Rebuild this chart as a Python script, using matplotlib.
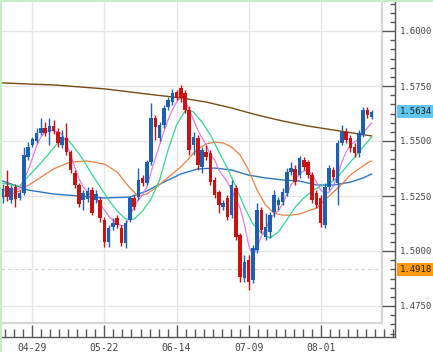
import matplotlib.pyplot as plt
import matplotlib.transforms as mtransforms
from matplotlib.patches import Rectangle
from matplotlib.lines import Line2D

# ---- data ----
date_labels = ['04-29', '05-22', '06-14', '07-09', '08-01']
date_idx = [7, 24, 41, 58, 75]

opens = [1.5245, 1.5295, 1.5232, 1.5291, 1.5241, 1.5263, 1.5427, 1.5482, 1.5500, 1.5536,
         1.5559, 1.5541, 1.5568, 1.5541, 1.5482, 1.5514, 1.5450, 1.5354, 1.5300, 1.5232,
         1.5236, 1.5277, 1.5232, 1.5232, 1.5141, 1.5041, 1.5109, 1.5150, 1.5104, 1.5036,
         1.5141, 1.5241, 1.5245, 1.5332, 1.5309, 1.5405, 1.5605, 1.5514, 1.5573, 1.5655,
         1.5677, 1.5723, 1.5741, 1.5718, 1.5641, 1.5482, 1.5514, 1.5382, 1.5450, 1.5445,
         1.5323, 1.5268, 1.5200, 1.5241, 1.5163, 1.5286, 1.5072, 1.4877, 1.4959, 1.4868,
         1.5004, 1.5186, 1.5063, 1.5086, 1.5177, 1.5209, 1.5223, 1.5263, 1.5359, 1.5373,
         1.5345, 1.5414, 1.5405, 1.5345, 1.5263, 1.5241, 1.5118, 1.5291, 1.5368, 1.5309,
         1.5491, 1.5541, 1.5514, 1.5473, 1.5445, 1.5527, 1.5641, 1.5609]
closes = [1.5282, 1.5245, 1.5286, 1.5236, 1.5263, 1.5436, 1.5473, 1.5509, 1.5536, 1.5559,
          1.5536, 1.5568, 1.5546, 1.5491, 1.5518, 1.5450, 1.5368, 1.5300, 1.5214, 1.5263,
          1.5273, 1.5172, 1.5259, 1.5150, 1.5041, 1.5104, 1.5127, 1.5118, 1.5036, 1.5127,
          1.5241, 1.5200, 1.5323, 1.5309, 1.5405, 1.5605, 1.5564, 1.5573, 1.5650, 1.5687,
          1.5718, 1.5700, 1.5696, 1.5641, 1.5459, 1.5518, 1.5391, 1.5459, 1.5427, 1.5313,
          1.5254, 1.5209, 1.5218, 1.5154, 1.5300, 1.5063, 1.4882, 1.4950, 1.4859, 1.5013,
          1.5186, 1.5095, 1.5109, 1.5163, 1.5254, 1.5232, 1.5268, 1.5359, 1.5377, 1.5313,
          1.5423, 1.5382, 1.5345, 1.5232, 1.5209, 1.5127, 1.5291, 1.5377, 1.5336, 1.5491,
          1.5541, 1.5505, 1.5468, 1.5445, 1.5536, 1.5641, 1.5618, 1.5634]
highs = [1.5304, 1.5368, 1.5300, 1.5304, 1.5277, 1.5473, 1.5495, 1.5518, 1.5559, 1.5605,
         1.5586, 1.5605, 1.5596, 1.5559, 1.5550, 1.5582, 1.5459, 1.5368, 1.5309, 1.5277,
         1.5291, 1.5291, 1.5277, 1.5245, 1.5154, 1.5118, 1.5150, 1.5163, 1.5118, 1.5141,
         1.5250, 1.5254, 1.5377, 1.5345, 1.5414, 1.5673, 1.5618, 1.5586, 1.5664, 1.5700,
         1.5737, 1.5732, 1.5755, 1.5732, 1.5659, 1.5541, 1.5527, 1.5473, 1.5482, 1.5459,
         1.5336, 1.5277, 1.5232, 1.5254, 1.5323, 1.5300, 1.5082, 1.4982, 1.4982, 1.5027,
         1.5218, 1.5200, 1.5172, 1.5177, 1.5277, 1.5245, 1.5286, 1.5377, 1.5405, 1.5391,
         1.5432, 1.5427, 1.5414, 1.5359, 1.5277, 1.5254, 1.5309, 1.5391, 1.5382, 1.5505,
         1.5573, 1.5559, 1.5527, 1.5491, 1.5550, 1.5655, 1.5655, 1.5641]
lows = [1.5218, 1.5227, 1.5218, 1.5200, 1.5232, 1.5254, 1.5414, 1.5473, 1.5491, 1.5527,
        1.5523, 1.5482, 1.5532, 1.5473, 1.5468, 1.5436, 1.5354, 1.5286, 1.5200, 1.5186,
        1.5223, 1.5163, 1.5218, 1.5132, 1.5018, 1.5018, 1.5095, 1.5104, 1.5022, 1.5013,
        1.5132, 1.5186, 1.5232, 1.5295, 1.5300, 1.5391, 1.5505, 1.5500, 1.5559, 1.5641,
        1.5664, 1.5687, 1.5677, 1.5627, 1.5436, 1.5436, 1.5368, 1.5354, 1.5414, 1.5300,
        1.5241, 1.5172, 1.5186, 1.5141, 1.5150, 1.5050, 1.4859, 1.4859, 1.4823, 1.4855,
        1.4991, 1.5082, 1.5050, 1.5059, 1.5154, 1.5186, 1.5209, 1.5250, 1.5345, 1.5300,
        1.5332, 1.5368, 1.5332, 1.5218, 1.5195, 1.5109, 1.5104, 1.5277, 1.5323, 1.5209,
        1.5482, 1.5491, 1.5450, 1.5427, 1.5427, 1.5518, 1.5605, 1.5600]

# moving averages (index, value)
ma_pink_idx = list(range(88))
ma_pink = [1.5277, 1.5277, 1.5277, 1.5280, 1.5282, 1.5323, 1.5368, 1.5423, 1.5477, 1.5518,
           1.5541, 1.5550, 1.5546, 1.5541, 1.5532, 1.5491, 1.5436, 1.5382, 1.5327, 1.5291,
           1.5268, 1.5250, 1.5236, 1.5214, 1.5186, 1.5159, 1.5141, 1.5127, 1.5114, 1.5118,
           1.5159, 1.5200, 1.5232, 1.5254, 1.5291, 1.5359, 1.5423, 1.5482, 1.5541, 1.5596,
           1.5641, 1.5677, 1.5700, 1.5687, 1.5641, 1.5596, 1.5550, 1.5514, 1.5482, 1.5436,
           1.5414, 1.5368, 1.5341, 1.5313, 1.5277, 1.5232, 1.5195, 1.5123, 1.5027, 1.4977,
           1.5013, 1.5068, 1.5100, 1.5141, 1.5168, 1.5182, 1.5214, 1.5254, 1.5300, 1.5323,
           1.5350, 1.5364, 1.5368, 1.5345, 1.5313, 1.5277, 1.5263, 1.5268, 1.5295, 1.5345,
           1.5405, 1.5450, 1.5482, 1.5495, 1.5509, 1.5536, 1.5559, 1.5582]
ma_green_idx = [0, 2, 4, 5, 7, 9, 11, 13, 15, 17, 19, 21, 23, 25, 27, 29, 31, 33, 35, 37,
                39, 41, 43, 44, 45, 47, 49, 51, 53, 55, 57, 59, 61, 63, 65, 67, 69, 71, 73,
                75, 77, 79, 81, 83, 85, 87]
ma_green = [1.5309, 1.5300, 1.5295, 1.5318, 1.5359, 1.5400, 1.5445, 1.5491, 1.5514, 1.5468,
            1.5414, 1.5350, 1.5291, 1.5232, 1.5182, 1.5145, 1.5145, 1.5182, 1.5236, 1.5323,
            1.5459, 1.5573, 1.5636, 1.5641, 1.5632, 1.5586, 1.5527, 1.5450, 1.5377, 1.5291,
            1.5200, 1.5123, 1.5082, 1.5059, 1.5086, 1.5141, 1.5200, 1.5241, 1.5273, 1.5295,
            1.5304, 1.5336, 1.5382, 1.5427, 1.5473, 1.5518]
ma_orange_idx = [0, 4, 8, 12, 16, 20, 24, 27, 30, 32, 34, 36, 38, 40, 42, 44, 46, 48, 50,
                 52, 54, 56, 58, 60, 62, 64, 66, 68, 70, 72, 74, 76, 78, 80, 82, 84, 86, 87]
ma_orange = [1.5245, 1.5273, 1.5323, 1.5373, 1.5405, 1.5409, 1.5395, 1.5359, 1.5286, 1.5250,
             1.5259, 1.5286, 1.5318, 1.5350, 1.5382, 1.5423, 1.5464, 1.5486, 1.5495, 1.5491,
             1.5473, 1.5436, 1.5368, 1.5277, 1.5209, 1.5172, 1.5163, 1.5163, 1.5168, 1.5182,
             1.5195, 1.5232, 1.5268, 1.5304, 1.5345, 1.5373, 1.5400, 1.5409]
ma_blue_idx = [0, 6, 12, 18, 24, 30, 34, 38, 42, 46, 50, 54, 58, 62, 66, 70, 74, 78, 82, 85, 87]
ma_blue = [1.5318, 1.5277, 1.5259, 1.5250, 1.5241, 1.5245, 1.5273, 1.5313, 1.5350, 1.5373,
           1.5377, 1.5368, 1.5345, 1.5332, 1.5323, 1.5318, 1.5300, 1.5300, 1.5313, 1.5332,
           1.5350]
ma_brown_idx = [0, 6, 12, 18, 24, 30, 36, 42, 48, 54, 60, 66, 72, 78, 84, 87]
ma_brown = [1.5764, 1.5759, 1.5755, 1.5746, 1.5737, 1.5723, 1.5709, 1.5696, 1.5677, 1.5650,
            1.5618, 1.5591, 1.5568, 1.5550, 1.5532, 1.5523]

y_major = [1.475, 1.500, 1.525, 1.550, 1.575, 1.600]
last_price = 1.5634
mark_price = 1.4918

# ---- layout: reference pixel geometry ----
W, H = 433, 352
fig = plt.figure(figsize=(W / 100, H / 100), dpi=100)
fig.patch.set_facecolor('white')


def px_to_idx(px):
    return (px - 2.7) / 4.24


def py_to_price(py):
    return 1.55 + (141 - py) * 0.025 / 55


ax = fig.add_axes([1 / W, 1 - 337 / H, 394 / W, 337 / H])
ax.set_xlim(px_to_idx(1), px_to_idx(395))
ax.set_ylim(py_to_price(337), py_to_price(0))
x_left = px_to_idx(1)
plot_right = px_to_idx(382)
plot_bottom = py_to_price(323)
y_top = py_to_price(0)

for s in ['top', 'left']:
    ax.spines[s].set_visible(False)
for s in ['bottom', 'right']:
    ax.spines[s].set_color('#555555')
    ax.spines[s].set_linewidth(1.0)

# grid
ax.hlines(y_major, x_left, plot_right, color='#e6e6e6', lw=1, zorder=0)
ax.vlines(date_idx, plot_bottom, y_top, color='#e6e6e6', lw=1, zorder=0)
ax.hlines(mark_price, x_left, plot_right, color='#d0d0d0', lw=0.8,
          linestyles=(0, (3, 3)), zorder=0)
# plot-area frame
ax.plot([plot_right, plot_right], [plot_bottom, y_top], color='#d6d6d6', lw=1.6, zorder=1)
ax.plot([x_left, plot_right], [plot_bottom, plot_bottom], color='#d6d6d6', lw=1.6, zorder=1)

# moving averages
ax.plot(ma_brown_idx, ma_brown, color='#7a4a12', lw=1.0, zorder=2)
ax.plot(ma_blue_idx, ma_blue, color='#2a78c8', lw=1.0, zorder=2)
ax.plot(ma_orange_idx, ma_orange, color='#ee8040', lw=0.9, zorder=2)
ax.plot(ma_green_idx, ma_green, color='#30d890', lw=0.9, zorder=2)
ax.plot(ma_pink_idx, ma_pink, color='#e47ce4', lw=0.9, zorder=2)

# candles
for i in range(len(opens)):
    o, c = opens[i], closes[i]
    col = '#1c5fb4' if c >= o else '#cc1111'
    ax.vlines(i, lows[i], highs[i], color=col, lw=1.0, zorder=3)
    ax.add_patch(Rectangle((i - 0.42, min(o, c)), 0.84, max(abs(c - o), 0.0003),
                           facecolor=col, edgecolor='none', zorder=4))

# ticks
minor_x = [0.625 + k * 17 / 8 for k in range(44)]
ax.set_xticks(date_idx)
ax.set_xticklabels(date_labels)
ax.set_xticks(minor_x, minor=True)
ax.yaxis.tick_right()
ax.set_yticks(y_major)
ax.set_yticklabels(['%.4f' % v for v in y_major])
ax.set_yticks([1.4625 + k * 0.025 / 6 for k in range(37)], minor=True)
ax.tick_params(axis='x', which='major', direction='in', length=8.8, width=1,
               color='#555555', pad=4, labelsize=7, labelcolor='#444444')
ax.tick_params(axis='x', which='minor', direction='in', length=5.5, width=1, color='#555555')
ax.tick_params(axis='y', which='major', direction='in', length=9.4, width=1,
               color='#555555', pad=3.5, labelsize=6.5, labelcolor='#444444')
ax.tick_params(axis='y', which='minor', direction='in', length=3.6, width=1, color='#555555')
for lab in ax.get_xticklabels() + ax.get_yticklabels():
    lab.set_family('DejaVu Sans Mono')

# price markers on the right scale
tr = mtransforms.blended_transform_factory(fig.transFigure, ax.transData)
box_h = 13 * 0.025 / 55
for price, col in [(last_price, '#62c6f4'), (mark_price, '#ff9a10')]:
    ax.add_patch(Rectangle((397 / W, price - box_h / 2), (W - 397) / W, box_h,
                           transform=tr, facecolor=col, edgecolor='none',
                           clip_on=False, zorder=5))
    ax.text(399.5 / W, price, '%.4f' % price, transform=tr, family='DejaVu Sans Mono',
            fontsize=6.5, color='#222222', va='center', ha='left', zorder=6, clip_on=False)

# light green outer edges
fig.add_artist(Line2D([0.6 / W, 0.6 / W], [0, 1], transform=fig.transFigure,
                      color='#c4efc4', lw=1.5))
fig.add_artist(Line2D([0, 1], [1 - 0.6 / H, 1 - 0.6 / H], transform=fig.transFigure,
                      color='#c4efc4', lw=1.5))

fig.savefig('out.png', dpi=100)
